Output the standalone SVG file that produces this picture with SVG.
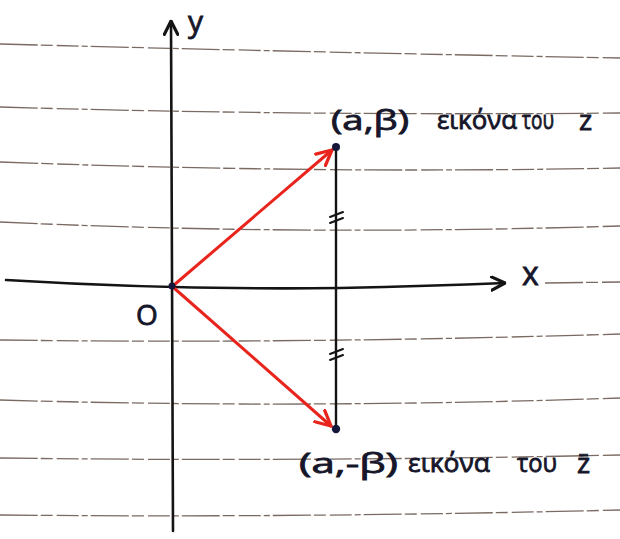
<svg xmlns="http://www.w3.org/2000/svg" width="620" height="539" viewBox="0 0 620 539">
<style>
.rule{fill:none;stroke:#7a6a62;stroke-width:1.3;stroke-dasharray:38 3 12 4 22 3 6 3}
.axis{fill:none;stroke:#141414;stroke-width:2.6;stroke-linecap:round}
.vec{fill:none;stroke:#e8241c;stroke-width:3;stroke-linecap:round}
.seg{fill:none;stroke:#141414;stroke-width:2.4}
.tick{fill:none;stroke:#141414;stroke-width:2;stroke-linecap:round}
.hand{font-family:"Open Sans","DejaVu Sans",sans-serif;fill:#16162a;stroke:#16162a;stroke-width:0.8}
.dot{fill:#14163a}
</style>
<defs>
<marker id="ahRed" viewBox="0 0 12 12" refX="11" refY="6" markerWidth="18" markerHeight="18" markerUnits="userSpaceOnUse" orient="auto">
<path d="M1,1 L11,6 L1,11" fill="none" stroke="#e8241c" stroke-width="2.2" stroke-linecap="round" stroke-linejoin="round"/>
</marker>
<marker id="ahBlack" viewBox="0 0 12 12" refX="11" refY="6" markerWidth="16" markerHeight="16" markerUnits="userSpaceOnUse" orient="auto">
<path d="M1,1 L11,6 L1,11" fill="none" stroke="#141414" stroke-width="2.4" stroke-linecap="round" stroke-linejoin="round"/>
</marker>
</defs>
<rect width="620" height="539" fill="#ffffff"/>
<g id="ruled-paper">
<path class="rule" d="M0,44 Q300,52 620,58"/>
<path class="rule" d="M0,107 Q300,116 620,113"/>
<path class="rule" d="M0,162 Q320,174 620,168"/>
<path class="rule" d="M0,222 Q300,236 620,226"/>
<path class="rule" d="M545,283 L620,282"/>
<path class="rule" d="M0,340 Q300,344 620,334"/>
<path class="rule" d="M0,400 Q300,409 620,398"/>
<path class="rule" d="M0,458 Q300,462 620,455"/>
<path class="rule" d="M0,515 Q300,518 620,510"/>
</g>
<g id="connectors">
<path id="y-axis" class="axis" d="M173,531 L171,21" marker-end="url(#ahBlack)"/>
<path id="x-axis" class="axis" d="M6,280 Q172,290 340,288 Q430,286 505,283" marker-end="url(#ahBlack)"/>
<path id="segment" class="seg" d="M336,147 L336,429"/>
<path id="vec-z" class="vec" d="M174,285 L332,150" marker-end="url(#ahRed)"/>
<path id="vec-zbar" class="vec" d="M174,288 L331,426" marker-end="url(#ahRed)"/>
<path class="tick" d="M330,217 L343,212 M330,223 L343,218"/>
<path class="tick" d="M330,354 L343,349 M330,360 L343,355"/>
</g>
<g id="origin">
<circle class="dot" cx="172" cy="286" r="3.5"/>
<text class="hand" x="136" y="325" font-size="28">O</text>
</g>
<g id="axis-labels">
<text class="hand" x="188" y="32" font-size="30">y</text>
<text class="hand" x="522" y="285" font-size="32">x</text>
</g>
<g id="point-z">
<circle class="dot" cx="336" cy="147" r="4"/>
<text class="hand" x="331" y="130" font-size="27" textLength="78" lengthAdjust="spacingAndGlyphs">(a,β)</text>
<text class="hand" x="437" y="129" font-size="25" textLength="80" lengthAdjust="spacingAndGlyphs">εικόνα</text>
<text class="hand" x="522" y="129" font-size="25" textLength="32" lengthAdjust="spacingAndGlyphs">του</text>
<text class="hand" x="579" y="130" font-size="28">z</text>
</g>
<g id="point-zbar">
<circle class="dot" cx="336" cy="429" r="4.2"/>
<text class="hand" x="299" y="473" font-size="27" textLength="99" lengthAdjust="spacingAndGlyphs">(a,-β)</text>
<text class="hand" x="408" y="472" font-size="25" textLength="82" lengthAdjust="spacingAndGlyphs">εικόνα</text>
<text class="hand" x="517" y="472" font-size="25" textLength="40" lengthAdjust="spacingAndGlyphs">του</text>
<text class="hand" x="577" y="473" font-size="28">z̄</text>
</g>
</svg>
